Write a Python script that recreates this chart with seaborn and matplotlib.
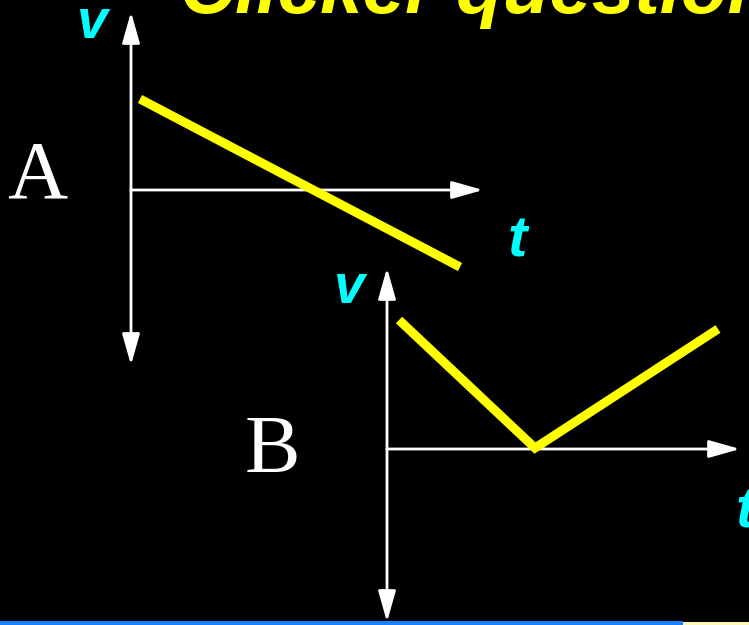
import matplotlib
matplotlib.use("Agg")
import matplotlib.pyplot as plt
import matplotlib.patches as mpatches
import seaborn as sns

# graph A: velocity falls steadily and goes negative
t_a = [0.09, 3.29]
v_a = [0.91, -0.77]

# graph B: velocity drops to zero, then rises again
t_b = [0.12, 1.48, 3.31]
v_b = [1.29, 0.01, 1.20]

title_text = "Clicker question"
panel_names = ["A", "B"]

sns.set_theme(style="dark", rc={"figure.facecolor": "black", "axes.facecolor": "black"})

fig = plt.figure(figsize=(7.49, 6.25), dpi=100)
fig.patch.set_facecolor("black")

YELLOW = "#ffff00"
CYAN = "#00ffff"
SANS = ["Liberation Sans", "DejaVu Sans"]
SERIF = ["Liberation Serif", "DejaVu Serif"]


def draw_graph(ax, t, v, name, t_end, v_lo, v_hi, name_pos, v_pos, t_pos):
    ax.set_facecolor("none")
    ax.axis("off")
    arrow = dict(arrowstyle="-|>,head_length=0.95,head_width=0.27", color="white",
                 lw=2, mutation_scale=20, shrinkA=0, shrinkB=0)
    # v axis, double headed
    ax.annotate("", xy=(0, v_hi), xytext=(0, 0), arrowprops=arrow, zorder=2)
    ax.annotate("", xy=(0, v_lo), xytext=(0, 0), arrowprops=arrow, zorder=2)
    # t axis
    ax.annotate("", xy=(t_end, 0), xytext=(0, 0), arrowprops=arrow, zorder=2)
    sns.lineplot(x=t, y=v, ax=ax, color=YELLOW, linewidth=6.5, sort=False,
                 solid_capstyle="butt", solid_joinstyle="miter", zorder=3)
    ax.text(*name_pos, name, color="white", fontsize=60, family=SERIF,
            ha="center", va="center")
    ax.text(*v_pos, "v", color=CYAN, fontsize=40, family=SANS, weight="bold",
            style="italic", ha="center", va="baseline")
    ax.text(*t_pos, "t", color=CYAN, fontsize=42, family=SANS, weight="bold",
            style="italic", ha="center", va="baseline")


ax_a = fig.add_axes([0, 0, 1, 1])
ax_a.set_xlim(-1.31, 6.18)
ax_a.set_ylim(-4.35, 1.90)
draw_graph(ax_a, t_a, v_a, panel_names[0], 3.52, -1.75, 1.78,
           (-0.94, 0.12), (-0.40, 1.52), (3.86, -0.66))

ax_b = fig.add_axes([0, 0, 1, 1])
ax_b.set_xlim(-3.87, 3.62)
ax_b.set_ylim(-1.76, 4.49)
draw_graph(ax_b, t_b, v_b, panel_names[1], 3.53, -1.73, 1.81,
           (-1.15, -0.03), (-0.39, 1.46), (3.58, -0.79))

# title, mostly cut off by the top edge
fig.text(180 / 749, 1 - 13 / 625, title_text, color=YELLOW, fontsize=55,
         family=SANS, weight="bold", style="italic", ha="left", va="baseline")

# edge of the box below the graphs
fig.patches.append(mpatches.Rectangle((0, 0), 683 / 749, 4 / 625, transform=fig.transFigure,
                                      facecolor="#1a7fff", edgecolor="none"))
fig.patches.append(mpatches.Rectangle((683 / 749, 0), 66 / 749, 3 / 625, transform=fig.transFigure,
                                      facecolor="#fff8b8", edgecolor="none"))

fig.savefig("out.png", dpi=100, facecolor="black")
